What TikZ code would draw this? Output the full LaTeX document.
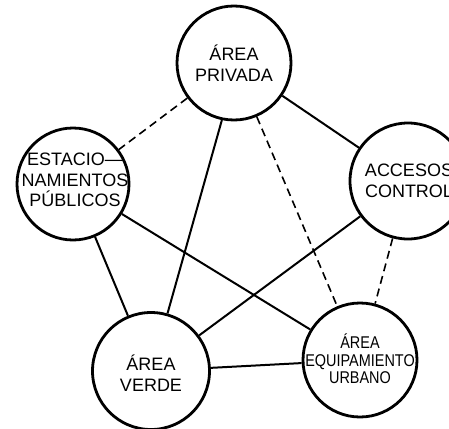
\documentclass[tikz,border=0pt]{standalone}
\usepackage{fontspec}
\setmainfont{Liberation Sans}
\newfontfamily\narrowfont{Liberation Sans}[FakeStretch=0.85]
\begin{document}
\begin{tikzpicture}[x=1pt,y=-1pt,
  place/.style={circle,draw,line width=2.8pt,inner sep=0pt,minimum size=#1},
  txt/.style={align=center,inner sep=0pt,font=\fontsize{18}{20.5}\selectfont},
  link/.style={line width=2pt},
  dlink/.style={line width=1.6pt,dash pattern=on 8pt off 5pt}]
\useasboundingbox (0,0) rectangle (449,428);
% circles
\node[place=114] (priv) at (234,63) {};
\node[place=112] (est) at (73,184) {};
\node[place=116] (acc) at (408,181) {};
\node[place=117] (ver) at (151,371) {};
\node[place=114] (equ) at (360,360) {};
% texts
\node[txt] (privt) at (234,63) {ÁREA\\PRIVADA};
\node[txt] (estt) at (75,180) {ESTACIO—\\NAMIENTOS\\PÚBLICOS};
\node[txt] (acct) at (409,181) {ACCESOS\\CONTROL};
\node[txt] (vert) at (151,373) {ÁREA\\VERDE};
\node[txt,font=\narrowfont\fontsize{17}{17.5}\selectfont] (equt) at (360,359) {ÁREA\\EQUIPAMIENTO\\URBANO};
% connectors
\draw[dlink] (priv) -- (est);
\draw[link] (priv) -- (acc);
\draw[link] (priv.-102) -- (ver.74);
\draw[dlink] (priv) -- (equ);
\draw[link] (est) -- (ver);
\draw[link] (est) -- (equ);
\draw[link] (acc) -- (ver);
\draw[dlink] (acc) -- (equ);
\draw[link] (ver) -- (equ);
\end{tikzpicture}
\end{document}
